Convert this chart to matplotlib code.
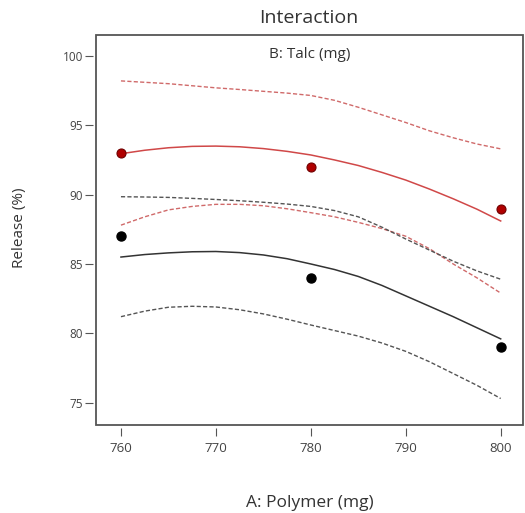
import matplotlib
matplotlib.use('Agg')
import matplotlib.pyplot as plt
from matplotlib.patches import Rectangle

plt.rcParams['font.family'] = ['Open Sans', 'DejaVu Sans']

# design points
polymer = [760, 780, 800]
release_talc_hi = [93, 92, 89]     # red points
release_talc_lo = [87, 84, 79]     # black points

# fitted curves and confidence bands
x_curve = [760, 762.5, 765, 767.5, 770, 772.5, 775, 777.5, 780,
           782.5, 785, 787.5, 790, 792.5, 795, 797.5, 800]
red_fit = [92.95, 93.2, 93.38, 93.48, 93.5, 93.45, 93.32, 93.12, 92.86,
           92.5, 92.1, 91.6, 91.05, 90.4, 89.7, 88.95, 88.1]
red_upper = [98.2, 98.1, 98.0, 97.85, 97.7, 97.58, 97.45, 97.32, 97.15,
             96.8, 96.3, 95.75, 95.2, 94.6, 94.1, 93.65, 93.3]
red_lower = [87.8, 88.4, 88.9, 89.15, 89.3, 89.3, 89.2, 88.98, 88.7,
             88.4, 88.0, 87.55, 87.0, 86.1, 85.0, 84.0, 82.9]
black_fit = [85.5, 85.68, 85.8, 85.88, 85.9, 85.82, 85.65, 85.38, 85.0,
             84.6, 84.1, 83.45, 82.7, 81.95, 81.2, 80.4, 79.6]
black_upper = [89.85, 89.83, 89.8, 89.73, 89.65, 89.56, 89.45, 89.32, 89.15,
               88.85, 88.4, 87.65, 86.8, 86.0, 85.2, 84.5, 83.9]
black_lower = [81.2, 81.6, 81.88, 81.95, 81.9, 81.7, 81.4, 81.02, 80.6,
               80.2, 79.8, 79.3, 78.7, 77.95, 77.1, 76.25, 75.3]

x_ticks = [760, 770, 780, 790, 800]
y_ticks = [75, 80, 85, 90, 95, 100]

fig = plt.figure(figsize=(5.25, 5.13), dpi=100)
ax = fig.add_axes([96/525, 88/513, 427/525, 390/513])

dash = (0, (3, 1.6))
ax.plot(x_curve, red_upper, color='#d06a6a', lw=1.0, ls=dash)
ax.plot(x_curve, red_lower, color='#d06a6a', lw=1.0, ls=dash)
ax.plot(x_curve, black_upper, color='#555555', lw=1.0, ls=dash)
ax.plot(x_curve, black_lower, color='#555555', lw=1.0, ls=dash)
ax.plot(x_curve, red_fit, color='#d04848', lw=1.1)
ax.plot(x_curve, black_fit, color='#333333', lw=1.1)

ax.plot(polymer, release_talc_hi, 'o', color='#b00000', mec='#700000', ms=6.5, mew=0.8)
ax.plot(polymer, release_talc_lo, 'o', color='black', ms=6.5)

ax.set_xlim(757.37, 802.35)
ax.set_ylim(73.39, 101.51)
ax.set_xticks(x_ticks)
ax.set_yticks(y_ticks)

# frame drawn separately so the ticks sit a little away from it
for s in ax.spines.values():
    s.set_visible(False)
ax.spines['left'].set_position(('outward', 2))
ax.spines['bottom'].set_position(('outward', 2))
ax.add_patch(Rectangle((0, 0), 1, 1, transform=ax.transAxes, fill=False,
                       edgecolor='#555555', lw=1.3, clip_on=False))

ax.tick_params(axis='both', direction='out', length=5.5, width=0.8,
               color='#555555', labelcolor='#444444')
ax.tick_params(axis='y', pad=2, labelsize=8.5)
ax.tick_params(axis='x', pad=5, labelsize=9.5)

ax.text(0.5, 0.949, 'B: Talc (mg)', transform=ax.transAxes, ha='center',
        va='center', fontsize=11, color='#333333')
fig.text(309/525, 1 - 18/513, 'Interaction', ha='center', va='center',
         fontsize=14, color='#333333')
fig.text(310/525, 1 - 503/513, 'A: Polymer (mg)', ha='center', va='center',
         fontsize=12.5, color='#333333')
fig.text(20/525, 1 - 228/513, 'Release (%)', ha='center', va='center',
         rotation=90, fontsize=11, color='#333333')

fig.savefig('out.png', dpi=100)
